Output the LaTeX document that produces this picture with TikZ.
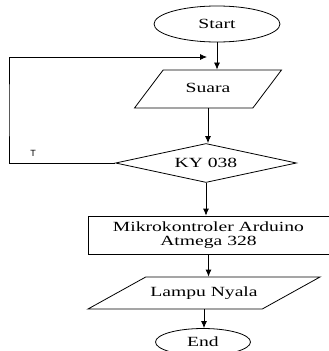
\documentclass[tikz,border=0pt]{standalone}
\usepackage{fontspec}
\setmainfont{Liberation Serif}[FakeStretch=1.4]
\newfontfamily\tfont{Liberation Sans}
\usetikzlibrary{shapes.geometric,arrows.meta}
\begin{document}
\begin{tikzpicture}[x=1pt,y=-1pt,line width=0.8pt,>={Latex[length=7pt,width=6pt]},
    font=\fontsize{14}{14}\selectfont,
    term/.style={draw,ellipse,inner sep=0pt},
    io/.style={draw,trapezium,trapezium stretches body,inner xsep=0pt,text height=10pt,text depth=3.5pt},
    cek/.style={draw,diamond,aspect=4.6,inner sep=0pt,minimum width=181,minimum height=39},
    proses/.style={draw,rectangle,align=center,inner sep=0pt,minimum width=241,minimum height=38}]
            \useasboundingbox (0,0) rectangle (329,351);
            \node [term,minimum width=126,minimum height=36] (start) at(217,24) {Start};
            \node [io,trapezium left angle=53,trapezium right angle=127,inner ysep=12.25pt,minimum width=147] (suara) at(208,89) {Suara};
            \node [cek] (ky) at(206,163) {KY 038};
            \node [proses] (mikro) at(208.5,235) {Mikrokontroler Arduino\\Atmega 328};
            \node [io,trapezium left angle=29,trapezium right angle=151,inner ysep=9.25pt,minimum width=232] (lampu) at(204,293) {Lampu Nyala};
            \node [term,minimum width=95,minimum height=27] (end) at(203,342) {End};
            \coordinate (loopin) at(207,57);
            \draw [->] (start.south) -- (start.south |- suara.north);
            \draw [->] (suara.south) -- (suara.south |- ky.north);
            \draw [->] (ky.south) -- (ky.south |- mikro.north);
            \draw [->] (mikro.south) -- (mikro.south |- lampu.north);
            \draw [->] (lampu.south) -- (lampu.south |- end.north);
            \draw [->] (ky.west) -| (9,110) |- (loopin);
            \node [font=\tfont\fontsize{9}{9}\selectfont] (tlabel) at(33,153) {T};
\end{tikzpicture}
\end{document}
